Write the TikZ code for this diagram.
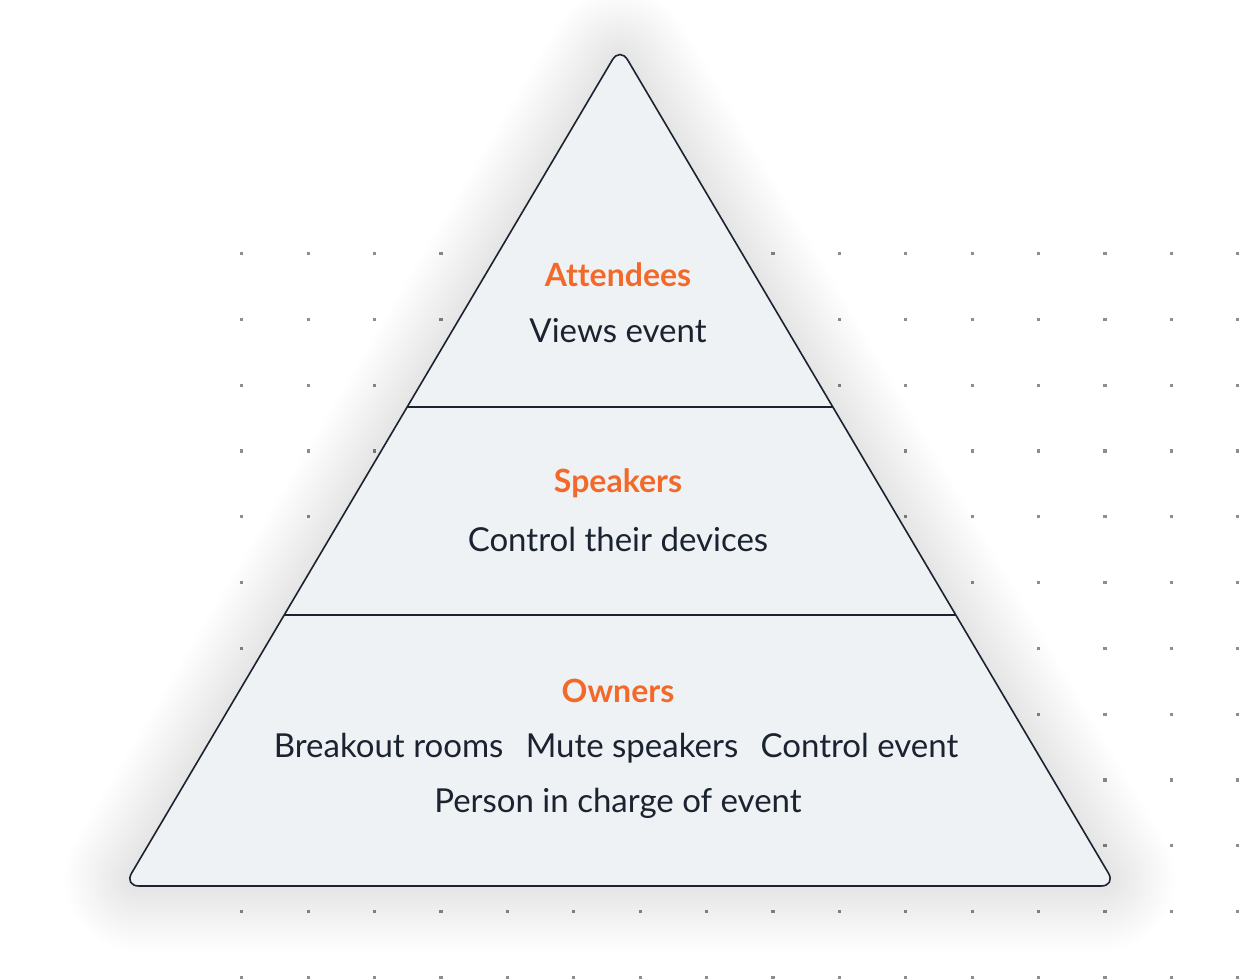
\documentclass[tikz,border=0pt]{standalone}
\usepackage{fontspec}
\setmainfont{Lato}[Ligatures=NoCommon]
\usepackage{xcolor}
\usetikzlibrary{calc,positioning}
\definecolor{tierfill}{HTML}{EEF2F5}
\definecolor{ink}{HTML}{1B2230}
\definecolor{accent}{HTML}{F2692A}
\definecolor{dotgray}{HTML}{8E8E8E}
\definecolor{shade}{HTML}{3A4250}
\tikzset{head/.style={text=accent,inner sep=0pt,font=\fontsize{32}{38}\selectfont\bfseries},
  item/.style={text=ink,inner sep=0pt,font=\fontsize{33}{38}\selectfont},
  tier/.style={draw=ink,line width=1.6pt},
  griddot/.style={fill=dotgray}}

\begin{document}
\begin{tikzpicture}[x=1pt,y=1pt]
\fill[white] (0,0) rectangle (1240,980);
\useasboundingbox (0,0) rectangle (1240,980);
% dotted backdrop
\foreach \i in {0,...,15}{
 \foreach \j in {0,...,11}{
  \fill[griddot] ({241.7+66.4*\i-1.6},{726.3-65.8*\j-1.6}) rectangle +(3.2,3.2);
 }
}
% pyramid
\coordinate (top) at (620,933);
\coordinate (bl) at (124,94);
\coordinate (br) at (1116,94);
% soft shadow
\foreach \k in {1,...,26}{
 \draw[shade,opacity=0.0038,line width=5*\k pt,line join=round,rounded corners=15pt,yshift=-12pt]
  (top) -- (br) -- (bl) -- cycle;
}
\fill[tierfill,rounded corners=15pt] (top) -- (br) -- (bl) -- cycle;
\draw[tier,rounded corners=15pt] (top) -- (br) -- (bl) -- cycle;
\coordinate (l1) at ($(top)!360/839!(bl)$);
\coordinate (r1) at ($(top)!360/839!(br)$);
\coordinate (l2) at ($(top)!568/839!(bl)$);
\coordinate (r2) at ($(top)!568/839!(br)$);
\draw[tier] (l1) -- (r1);
\draw[tier] (l2) -- (r2);
% labels
\node[head] (att) at (618,705) {Attendees};
\node[item] (view) at (618,649) {Views event};
\node[head] (spk) at (618,497) {Speakers};
\node[item] (ctrl) at (618,441) {Control their devices};
\node[head] (own) at (618,289) {Owners};
\node[item,anchor=base] (mute) at (632,222) {Mute speakers};
\node[item,base left=22pt of mute] (brk) {Breakout rooms};
\node[item,base right=22pt of mute] (cev) {Control event};
\node[item] (pic) at (618,177) {Person in charge of event};
\end{tikzpicture}
\end{document}
